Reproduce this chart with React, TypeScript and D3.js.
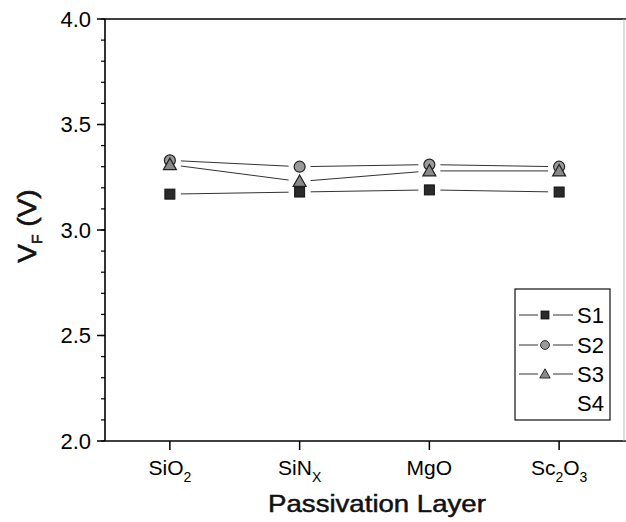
import React from "react";
import * as d3 from "d3";

const categories = ["SiO2", "SiNx", "MgO", "Sc2O3"];
const categoryLabels: [string, string][][] = [
  [["SiO", "n"], ["2", "s"]],
  [["SiN", "n"], ["X", "s"]],
  [["MgO", "n"]],
  [["Sc", "n"], ["2", "s"], ["O", "n"], ["3", "s"]],
];
const seriesNames = ["S1", "S2", "S3", "S4"];
const s1 = [3.17, 3.18, 3.19, 3.18];
const s2 = [3.33, 3.3, 3.31, 3.3];
const s3 = [3.31, 3.23, 3.28, 3.28];
const s4: number[] = [];
const yTicks = [2.0, 2.5, 3.0, 3.5, 4.0];
const yMinorTicks = d3.range(20, 41).map((v) => v / 10);

const W = 626;
const H = 522;
const left = 105;
const right = 624;
const top = 19;
const bottom = 441;
const FONT = "Liberation Sans, Arial, Helvetica, sans-serif";

function Marker({ kind, x, y }: { kind: string; x: number; y: number }) {
  if (kind === "square")
    return <rect x={x - 5} y={y - 5} width={10} height={10} fill="#2a2a2a" stroke="#111" strokeWidth={1} />;
  if (kind === "circle")
    return <circle cx={x} cy={y} r={5.5} fill="#9a9a9a" stroke="#222" strokeWidth={1.2} />;
  if (kind === "triangle")
    return (
      <path
        d={`M${x},${y - 6.5} L${x + 6.5},${y + 5} L${x - 6.5},${y + 5} Z`}
        fill="#8a8a8a"
        stroke="#222"
        strokeWidth={1.2}
      />
    );
  return null;
}

export default function App() {
  const x = d3.scaleLinear().domain([-0.5, 3.5]).range([left, right]);
  const y = d3.scaleLinear().domain([2, 4]).range([bottom, top]);
  const series = [
    { name: seriesNames[0], values: s1, kind: "square" },
    { name: seriesNames[1], values: s2, kind: "circle" },
    { name: seriesNames[2], values: s3, kind: "triangle" },
    { name: seriesNames[3], values: s4, kind: "none" },
  ];
  const gap = 11;
  const segs = (vals: number[]) => {
    const out: { x1: number; y1: number; x2: number; y2: number }[] = [];
    for (let i = 0; i < vals.length - 1; i++) {
      const ax = x(i), ay = y(vals[i]), bx = x(i + 1), by = y(vals[i + 1]);
      const len = Math.hypot(bx - ax, by - ay);
      const ux = (bx - ax) / len, uy = (by - ay) / len;
      out.push({ x1: ax + ux * gap, y1: ay + uy * gap, x2: bx - ux * gap, y2: by - uy * gap });
    }
    return out;
  };
  const legendRows = [315, 345, 374, 403];

  return (
    <svg width={W} height={H} style={{ position: "absolute", left: 0, top: 0, background: "#fff" }}>
      {/* frame */}
      <line x1={left} y1={top} x2={W} y2={top} stroke="#000" strokeWidth={1.6} />
      <line x1={left} y1={bottom} x2={W} y2={bottom} stroke="#000" strokeWidth={1.6} />
      <line x1={left} y1={top} x2={left} y2={bottom} stroke="#000" strokeWidth={1.6} />
      <line x1={right} y1={top} x2={right} y2={bottom} stroke="#bbb" strokeWidth={1} />
      {/* y minor ticks */}
      {yMinorTicks.map((t) => (
        <line key={"m" + t} x1={left - 4} x2={left} y1={y(t)} y2={y(t)} stroke="#000" strokeWidth={1.2} />
      ))}
      {yTicks.map((t) => (
        <g key={t}>
          <line x1={left - 8} x2={left} y1={y(t)} y2={y(t)} stroke="#000" strokeWidth={1.5} />
          <text x={91} y={y(t) + 7.5} textAnchor="end" fontFamily={FONT} fontSize={22} fill="#000">
            {t.toFixed(1)}
          </text>
        </g>
      ))}
      {/* x ticks */}
      {categories.map((c, i) => (
        <g key={c}>
          <line x1={x(i)} x2={x(i)} y1={bottom} y2={bottom + 9} stroke="#000" strokeWidth={1.5} />
          <text x={x(i)} y={475} textAnchor="middle" fontFamily={FONT} fontSize={21} fill="#000">
            {categoryLabels[i].map(([s, k], j) =>
              k === "s" ? (
                <tspan key={j} fontSize={14} dy={7}>{s}</tspan>
              ) : (
                <tspan key={j} dy={j > 0 ? -7 : 0}>{s}</tspan>
              )
            )}
          </text>
        </g>
      ))}
      {/* axis titles */}
      <text
        transform="translate(377,512) scale(1.15,1)"
        textAnchor="middle"
        fontFamily={FONT}
        fontSize={24}
        fill="#111"
        stroke="#111"
        strokeWidth={0.5}
      >
        Passivation Layer
      </text>
      <text
        transform="translate(36,226) rotate(-90) scale(1.12,1)"
        textAnchor="middle"
        fontFamily={FONT}
        fontSize={25}
        fill="#111"
        stroke="#111"
        strokeWidth={0.6}
      >
        <tspan>V</tspan>
        <tspan fontSize={14} dy={6}>F</tspan>
        <tspan dy={-6}> (V)</tspan>
      </text>
      {/* series lines */}
      {series.map((s) =>
        segs(s.values).map((sg, i) => (
          <line key={s.name + i} {...sg} stroke="#333" strokeWidth={1} />
        ))
      )}
      {/* markers */}
      {series.map((s) =>
        s.values.map((v, i) => <Marker key={s.name + "m" + i} kind={s.kind} x={x(i)} y={y(v)} />)
      )}
      {/* legend */}
      <rect x={515} y={289} width={95} height={131} fill="#fff" stroke="#111" strokeWidth={1.2} />
      {series.map((s, i) => (
        <g key={"lg" + s.name}>
          {s.kind !== "none" && (
            <>
              <line x1={519} x2={538} y1={legendRows[i]} y2={legendRows[i]} stroke="#333" strokeWidth={1} />
              <line x1={553} x2={573} y1={legendRows[i]} y2={legendRows[i]} stroke="#333" strokeWidth={1} />
              <g transform={`translate(${545},${legendRows[i]}) scale(0.8) translate(${-545},${-legendRows[i]})`}>
                <Marker kind={s.kind} x={545} y={legendRows[i]} />
              </g>
            </>
          )}
          <text x={577} y={legendRows[i] + 8} fontFamily={FONT} fontSize={22} fill="#000">
            {s.name}
          </text>
        </g>
      ))}
    </svg>
  );
}
